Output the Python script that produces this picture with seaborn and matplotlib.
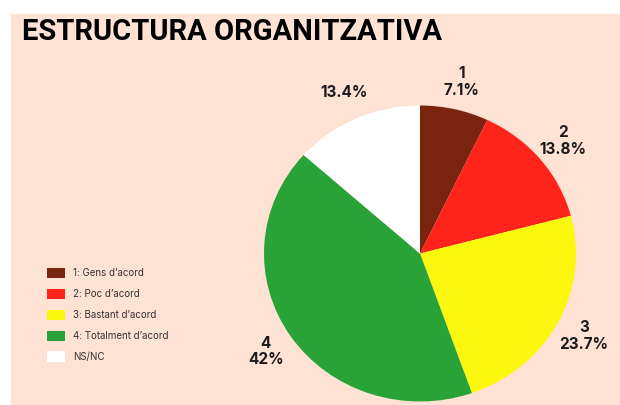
import numpy as np
import matplotlib
matplotlib.use('Agg')
import matplotlib.pyplot as plt
import seaborn as sns
from matplotlib.patches import Rectangle

# dades
categories = ['1: Gens d’acord', '2: Poc d’acord', '3: Bastant d’acord',
              '4: Totalment d’acord', 'NS/NC']
short_labels = ['1', '2', '3', '4', '']
values = [7.1, 13.8, 23.7, 42.0, 13.4]
pct_labels = ['7.1%', '13.8%', '23.7%', '42%', '13.4%']
colors = ['#7B2510', '#FF2419', '#FBF70E', '#29A337', '#FFFFFF']

sns.set_theme(style='white')
plt.rcParams['font.family'] = ['Inter', 'DejaVu Sans']

W, H = 620, 405
fig = plt.figure(figsize=(W / 100, H / 100), dpi=100)
fig.patch.set_facecolor('white')

# fons
fig.patches.append(Rectangle((11 / W, 0), 1, 1 - 14 / H, transform=fig.transFigure,
                             facecolor='#FEE2D3', edgecolor='none', zorder=-5))

fig.text(22 / W, 1 - 32 / H, 'ESTRUCTURA ORGANITZATIVA', fontsize=21,
         fontweight='bold', color='black', va='center', ha='left',
         family=['Roboto', 'DejaVu Sans'])

# pastís
cx, cy, rx, ry = 420, 253.5, 156, 148
ax = fig.add_axes([(cx - rx) / W, (H - cy - ry) / H, 2 * rx / W, 2 * ry / H])
ax.set_facecolor('none')
wedges, _ = ax.pie(values, colors=colors, startangle=90, counterclock=False,
                   radius=1, wedgeprops=dict(linewidth=0))
ax.set_aspect('auto')
ax.set_xlim(-1, 1)
ax.set_ylim(-1, 1)
ax.axis('off')

for w, s, p in zip(wedges, short_labels, pct_labels):
    ang = np.deg2rad((w.theta1 + w.theta2) / 2)
    r = 1.19
    txt = f'{s}\n{p}' if s else p
    ax.text(r * np.cos(ang), r * np.sin(ang), txt, ha='center', va='center',
            fontsize=11, fontweight='bold', color='#1a1a1a', linespacing=1.15,
            clip_on=False)

fig.legend(wedges, categories, loc='upper left',
           bbox_to_anchor=(47 / W, 1 - 268 / H), frameon=False,
           fontsize=7, handlelength=1.82, handleheight=1.23,
           handletextpad=0.9, labelspacing=1.08, borderpad=0,
           borderaxespad=0, labelcolor='#333333')

fig.savefig('out.png', dpi=100)
